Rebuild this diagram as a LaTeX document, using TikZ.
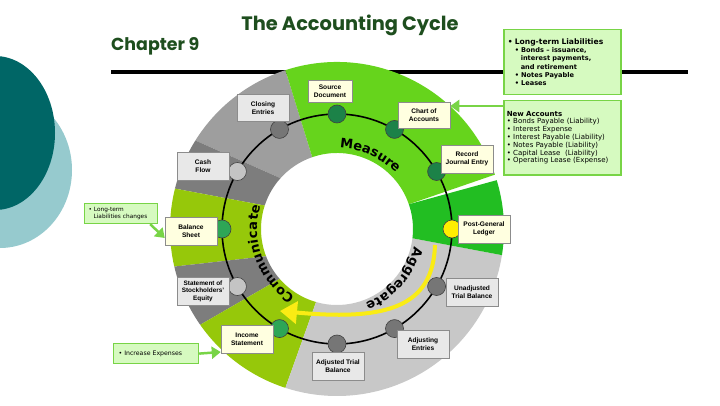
\documentclass[tikz,border=0pt]{standalone}
\usepackage{fontspec}
\setmainfont{Liberation Sans}
\newfontfamily\verdana{DejaVu Sans}
\newfontfamily\titlefont{Poppins}
\usetikzlibrary{arrows.meta, positioning, calc, decorations.text}

\definecolor{measuregreen}{RGB}{102,212,28}
\definecolor{ledgergreen}{RGB}{34,190,34}
\definecolor{aggrgrey}{RGB}{200,200,200}
\definecolor{commlime}{RGB}{150,200,10}
\definecolor{commdark}{RGB}{125,125,125}
\definecolor{closegrey}{RGB}{158,158,158}
\definecolor{dotgreen}{RGB}{28,130,72}
\definecolor{dotlime}{RGB}{46,166,86}
\definecolor{dotgrey}{RGB}{118,118,118}
\definecolor{dotlight}{RGB}{196,196,196}
\definecolor{dotyellow}{RGB}{255,238,0}
\definecolor{boxcream}{RGB}{255,255,224}
\definecolor{boxgrey}{RGB}{232,232,232}
\definecolor{notefill}{RGB}{214,250,192}
\definecolor{noteedge}{RGB}{120,212,70}
\definecolor{titlegreen}{RGB}{30,78,30}
\definecolor{tealdark}{RGB}{0,102,102}
\definecolor{teallight}{RGB}{150,202,206}
\definecolor{arrowyellow}{RGB}{250,236,20}

\newcommand{\ringfont}{\verdana\bfseries\fontsize{13}{13}\selectfont}
% one slanted piece of the ring: inner start, outer start, outer end, inner end, colour
\newcommand{\ringpart}[5]{%
  \fill[#5] ($(C)+(#1:76pt)$) -- ($(C)+(#2:167pt)$)
    arc[start angle=#2, end angle=#3, radius=167pt]
    -- ($(C)+(#4:76pt)$) arc[start angle=#4, end angle=#1, radius=76pt] -- cycle;}

\begin{document}
\begin{tikzpicture}[x=1pt, y=1pt,
    dot/.style={circle, draw=black!75, line width=0.6pt, minimum size=18pt,
      inner sep=0pt},
    stepcream/.style={draw=black!45, fill=boxcream, line width=0.5pt,
      minimum width=52pt, minimum height=28pt, inner sep=1pt, align=center,
      font=\fontsize{6.6}{8.2}\selectfont\bfseries},
    stepgrey/.style={stepcream, fill=boxgrey},
    note/.style={draw=noteedge, fill=notefill, line width=1.5pt, align=left,
      inner sep=3pt, anchor=north west},
    notearrow/.style={noteedge, line width=2.5pt,
      -{Triangle[length=9pt,width=12pt]}},
    ringword/.style={decorate, decoration={text along path,
      text align=fit to path, text={|\ringfont|#1}}} ]

    \useasboundingbox (0,0) rectangle (720,405);
    \coordinate (C) at (337,176);

    % Side decoration
    \fill[teallight] (0,235) ellipse [x radius=72pt, y radius=78pt];
    \fill[tealdark] (-5,272) ellipse [x radius=60pt, y radius=77pt];

    % Heading
    \node[font=\titlefont\bfseries\fontsize{19.4}{19.4}\selectfont,
      text=titlegreen] (title) at (350,380) {The Accounting Cycle};
    \node[font=\titlefont\bfseries\fontsize{17.4}{17.4}\selectfont,
      text=titlegreen, anchor=west, inner sep=0pt] (chap) at (111,359)
    {Chapter 9};
    \draw[line width=3.5pt] (111,333) -- (688,333);

    % Ring pieces
    \ringpart{138}{148}{108}{109}{closegrey}
    \ringpart{162}{166}{148}{138}{commdark}
    \ringpart{201}{193}{166}{162}{commlime}
    \ringpart{221}{215}{193}{201}{commdark}
    \ringpart{254}{252}{215}{221}{commlime}
    \ringpart{-7}{-9}{-108}{-106}{aggrgrey}
    \ringpart{109}{108}{19}{19}{measuregreen}
    \ringpart{19}{17}{-9}{-7}{ledgergreen}

    % Track and yellow arrow
    \draw[line width=1.6pt] (C) circle [radius=115pt];
    \draw[line width=4pt, arrowyellow, -{Triangle[length=17pt,width=22pt]}]
    ($(C)+(98,-16)$) .. controls ($(C)+(96,-78)$) and ($(C)+(50,-92)$) ..
    ($(C)+(-57,-82)$);

    % Words round the ring
    \path[ringword=Measure] ($(C)+(88:81pt)$)
    arc[start angle=88, end angle=44, radius=81pt];
    \path[ringword=Aggregate] ($(C)+(-13:79pt)$)
    arc[start angle=-13, end angle=-69, radius=79pt];
    \path[ringword=Communicate] ($(C)+(238:80pt)$)
    arc[start angle=238, end angle=163, radius=80pt];

    % Steps on the track
    \node[dot, fill=dotgreen] (src) at ($(C)+(90:115pt)$) {};
    \node[dot, fill=dotgreen] (chart) at ($(C)+(60:115pt)$) {};
    \node[dot, fill=dotgreen] (journal) at ($(C)+(30:115pt)$) {};
    \node[dot, fill=dotyellow] (ledger) at ($(C)+(0:115pt)$) {};
    \node[dot, fill=dotgrey] (unadj) at ($(C)+(-30:115pt)$) {};
    \node[dot, fill=dotgrey] (adjent) at ($(C)+(-60:115pt)$) {};
    \node[dot, fill=dotgrey] (adjtb) at ($(C)+(-90:115pt)$) {};
    \node[dot, fill=dotlime] (income) at ($(C)+(240:115pt)$) {};
    \node[dot, fill=dotlight] (equity) at ($(C)+(210:115pt)$) {};
    \node[dot, fill=dotlime] (balance) at ($(C)+(180:115pt)$) {};
    \node[dot, fill=dotlight] (cash) at ($(C)+(150:115pt)$) {};
    \node[dot, fill=dotgrey] (closing) at ($(C)+(120:115pt)$) {};

    % Step labels
    \node[stepcream, minimum width=44pt, minimum height=22pt] (bsrc) at
    (330,314) {Source\\Document};
    \node[stepcream, minimum height=26pt] (bchart) at (424,290) {Chart of\\Accounts};
    \node[stepcream] (bjournal) at (467,246) {Record\\Journal Entry};
    \node[stepcream] (bledger) at (484,176) {Post-General\\Ledger};
    \node[stepgrey] (bunadj) at (472,113) {Unadjusted\\Trial Balance};
    \node[stepgrey] (badjent) at (423,61) {Adjusting\\Entries};
    \node[stepgrey] (badjtb) at (338,39) {Adjusted Trial\\Balance};
    \node[stepcream] (bincome) at (247,66) {Income\\Statement};
    \node[stepgrey, font=\fontsize{6.4}{7.6}\selectfont\bfseries] (bequity) at
    (203,114) {Statement of\\Stockholders'\\Equity};
    \node[stepcream] (bbalance) at (191,174) {Balance\\Sheet};
    \node[stepgrey] (bcash) at (203,239) {Cash\\Flow};
    \node[stepgrey, minimum height=27pt] (bclosing) at (263,297) {Closing\\Entries};

    % Notes
    \node[note, text width=111pt, minimum height=65pt,
      font=\verdana\bfseries\fontsize{6.6}{8.3}\selectfont] (ltl) at (503,376)
    {{\fontsize{7.6}{8.3}\selectfont \hspace*{1pt}• Long-term Liabilities}\\
      \hspace*{8pt}• Bonds – issuance,\\
      \hspace*{14pt}interest payments,\\
      \hspace*{14pt}and retirement\\
      \hspace*{8pt}• Notes Payable\\
      \hspace*{8pt}• Leases};
    \node[note, text width=111pt, minimum height=74pt,
      font=\verdana\fontsize{7}{7.8}\selectfont] (nacc) at (503,305)
    {{\bfseries New Accounts}\\
      • Bonds Payable (Liability)\\
      • Interest Expense\\
      • Interest Payable (Liability)\\
      • Notes Payable (Liability)\\
      • Capital Lease\ \ (Liability)\\
      • Operating Lease (Expense)};
    \node[note, line width=1.2pt, text width=69pt, minimum height=20pt,
      inner sep=2pt, font=\verdana\fontsize{5.8}{6.8}\selectfont] (ltchg) at
    (84,202) {\hspace*{2pt}• Long-term\\ \hspace*{7pt}Liabilities changes};
    \node[note, line width=1.2pt, text width=81pt, minimum height=20pt,
      inner sep=2pt, font=\verdana\fontsize{6.2}{7}\selectfont] (incexp) at
    (113,62) {\hspace*{3pt}• Increase Expenses};

    % Note arrows
    \draw[notearrow] ([yshift=-6pt]nacc.north west) -- ([yshift=9pt]bchart.east);
    \draw[notearrow] ([xshift=-8pt]ltchg.south east) -- ([yshift=-7pt]bbalance.west);
    \draw[notearrow] (incexp.east) -- ([yshift=-13pt]bincome.west);

\end{tikzpicture}
\end{document}
